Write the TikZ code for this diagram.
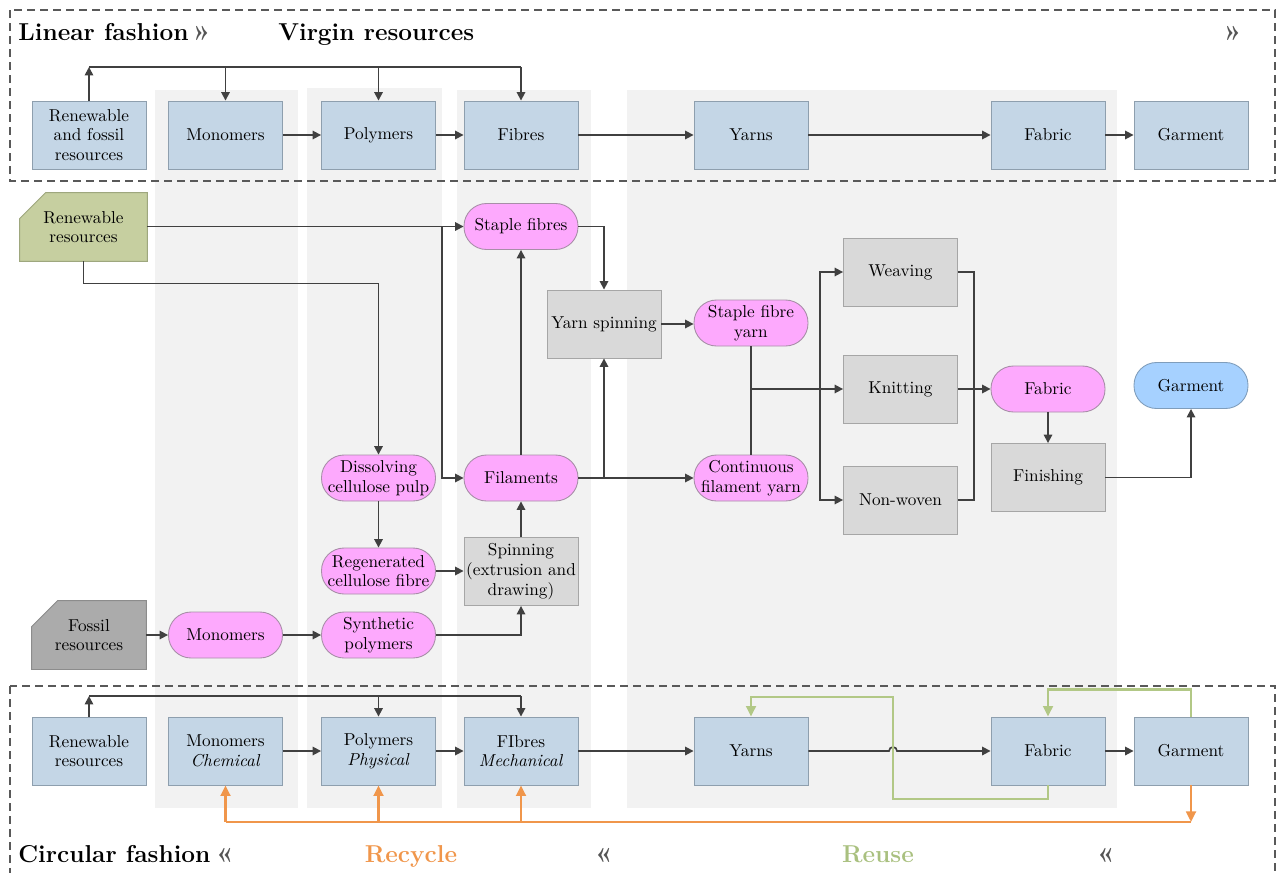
\documentclass[tikz,border=0pt]{standalone}
\usepackage{fontspec}
\usetikzlibrary{arrows.meta,backgrounds,calc}
\definecolor{blueF}{HTML}{C4D6E6}
\definecolor{blueD}{HTML}{8E9FAE}
\definecolor{pinkF}{HTML}{FDA9FD}
\definecolor{pinkD}{HTML}{A88EA8}
\definecolor{grayF}{HTML}{D9D9D9}
\definecolor{grayD}{HTML}{A6A6A6}
\definecolor{greenF}{HTML}{C6CFA0}
\definecolor{greenD}{HTML}{9EA77E}
\definecolor{fosF}{HTML}{ABABAB}
\definecolor{fosD}{HTML}{8C8C8C}
\definecolor{garF}{HTML}{A6D1FF}
\definecolor{garD}{HTML}{7F9DBB}
\definecolor{colF}{HTML}{F2F2F2}
\definecolor{lineC}{HTML}{404040}
\definecolor{dashC}{HTML}{595959}
\definecolor{orangeC}{HTML}{F0964B}
\definecolor{greenL}{HTML}{B2C886}
\definecolor{greenT}{HTML}{A9C07F}
\definecolor{chevC}{HTML}{555555}
\tikzset{
 box/.style={draw, line width=0.5pt, align=center, font=\fontsize{9.8}{11.2}\selectfont, inner sep=1pt, minimum width=2.28cm, minimum height=1.36cm, text=black},
 bluebox/.style={box, fill=blueF, draw=blueD},
 procbox/.style={box, fill=grayF, draw=grayD},
 pill/.style={box, fill=pinkF, draw=pinkD, rounded corners=0.45cm, minimum height=0.92cm},
 garpill/.style={pill, fill=garF, draw=garD},
 cutnode/.style={box, draw=none, fill=none},
 ln/.style={draw=lineC, line width=0.95pt},
 arr/.style={ln, -{Triangle[length=4.8pt,width=4.8pt]}},
 oln/.style={draw=orangeC, line width=1.5pt},
 oarr/.style={oln, -{Triangle[length=6pt,width=5.5pt]}},
 garr/.style={draw=greenL, line width=1.5pt, -{Triangle[length=6pt,width=5.5pt]}},
 dashbox/.style={draw=dashC, line width=0.8pt, dash pattern=on 4.6pt off 2.8pt},
 head/.style={font=\fontsize{13.9}{15}\selectfont\bfseries, inner sep=0pt, anchor=base west},
 chev/.style={font=\fontsize{17}{17}\selectfont\bfseries, text=chevC, inner sep=0pt, anchor=base west},
}
\begin{document}
\begin{tikzpicture}[x=0.02cm,y=-0.02cm]
\useasboundingbox (0,0) rectangle (1277,872);
\clip (0,0) rectangle (1277,872);
% columns
\fill[colF] (155,90) rectangle (298,808);
\fill[colF] (307,88) rectangle (442,808);
\fill[colF] (457,90) rectangle (591,808);
\fill[colF] (627,90) rectangle (1117,808);
% dashed frames
\draw[dashbox] (10,10) rectangle (1275,181);
\draw[dashbox] (10,686) rectangle (1275,900);
% headings
\node[head] (hLin) at (18,40) {Linear fashion};
\node[chev] (hCh0) at (192,40.5) {»};
\node[head] (hVir) at (278,40) {Virgin resources};
\node[chev] (hCh1) at (1223,40.5) {»};
\node[head] (hCir) at (18,862) {Circular fashion};
\node[chev] (hCh4) at (215,862.5) {«};
\node[head, anchor=base, text=orangeC] (hRec) at (411,862) {Recycle};
\node[chev] (hCh2) at (594,862.5) {«};
\node[head, anchor=base, text=greenT] (hReu) at (878,862) {Reuse};
\node[chev] (hCh3) at (1096,862.5) {«};
% top row
\node[bluebox] (tR) at (89,135) {Renewable\\and fossil\\resources};
\node[bluebox] (tMon) at (225.5,135) {Monomers};
\node[bluebox] (tPol) at (378.5,135) {Polymers};
\node[bluebox] (tFib) at (521,135) {Fibres};
\node[bluebox] (tYarn) at (751,135) {Yarns};
\node[bluebox] (tFab) at (1048,135) {Fabric};
\node[bluebox] (tGar) at (1191,135) {Garment};
\coordinate (ta) at (89,67);
\draw[arr] (tR.north) -- (ta);
\draw[ln] (ta) -- (ta -| tFib.north);
\draw[arr] (ta -| tMon.north) -- (tMon.north);
\draw[arr] (ta -| tPol.north) -- (tPol.north);
\draw[arr] (ta -| tFib.north) -- (tFib.north);
\draw[arr] (tMon) -- (tPol);
\draw[arr] (tPol) -- (tFib);
\draw[arr] (tFib) -- (tYarn);
\draw[arr] (tYarn) -- (tFab);
\draw[arr] (tFab) -- (tGar);
% middle
\node[cutnode, minimum width=2.54cm] (mRen) at (83.5,227) {Renewable\\resources};
\node[cutnode] (mFos) at (89,635) {Fossil\\resources};
\begin{pgfonlayer}{background}
\filldraw[fill=greenF, draw=greenD, line width=0.5pt] (mRen.south west) -- ($(mRen.north west)+(0,-0.52cm)$) -- ($(mRen.north west)+(0.52cm,0)$) -- (mRen.north east) -- (mRen.south east) -- cycle;
\filldraw[fill=fosF, draw=fosD, line width=0.5pt] (mFos.south west) -- ($(mFos.north west)+(0,-0.52cm)$) -- ($(mFos.north west)+(0.52cm,0)$) -- (mFos.north east) -- (mFos.south east) -- cycle;
\end{pgfonlayer}
\node[pill] (mStaple) at (521,226.5) {Staple fibres};
\node[procbox] (mYS) at (604,324) {Yarn spinning};
\node[pill] (mSFY) at (751,323) {Staple fibre\\yarn};
\node[procbox] (mWeave) at (900.5,272) {Weaving};
\node[procbox] (mKnit) at (900.5,389) {Knitting};
\node[procbox] (mNon) at (900.5,500) {Non-woven};
\node[pill] (mFab) at (1048,389) {Fabric};
\node[procbox] (mFin) at (1048,477.5) {Finishing};
\node[garpill] (mGar) at (1191,385.5) {Garment};
\node[pill] (mDiss) at (378.5,478) {Dissolving\\cellulose pulp};
\node[pill] (mFil) at (521,478) {Filaments};
\node[pill] (mCFY) at (751,478) {Continuous\\filament yarn};
\node[pill] (mRegen) at (378.5,571) {Regenerated\\cellulose fibre};
\node[procbox] (mSpin) at (521,571.5) {Spinning\\(extrusion and\\drawing)};
\node[pill] (mMon) at (225.5,635) {Monomers};
\node[pill] (mSyn) at (378.5,635) {Synthetic\\polymers};
% middle connectors
\draw[arr] (mRen.east |- mStaple.west) -- (mStaple.west);
\coordinate (j1) at (442,226.5);
\draw[arr] (j1) |- (mFil.west);
\draw[arr] (mRen.south) -- ++(0,22) -| (mDiss.north);
\draw[arr] (mStaple.east) -| (mYS.north);
\draw[arr] (mFil.north) -- (mStaple.south);
\draw[arr] (mFil.east) -- (mCFY.west);
\draw[arr] (mYS.south |- mFil.east) -- (mYS.south);
\draw[arr] (mYS.east) -- (mYS.east -| mSFY.west);
\draw[ln] (mSFY.south) -- (mCFY.north);
\draw[arr] (mSFY.south |- mKnit.west) -- (mKnit.west);
\coordinate (j2) at (820,389);
\draw[arr] (j2) |- (mWeave.west);
\draw[arr] (j2) |- (mNon.west);
\coordinate (j3) at (974,389);
\draw[ln] (mWeave.east) -| (j3);
\draw[ln] (mNon.east) -| (j3);
\draw[arr] (mKnit.east) -- (mFab.west);
\draw[arr] (mFab.south) -- (mFin.north);
\draw[arr] (mFin.east) -| (mGar.south);
\draw[arr] (mDiss.south) -- (mRegen.north);
\draw[arr] (mRegen.east) -- (mRegen.east -| mSpin.west);
\draw[arr] (mSpin.north) -- (mFil.south);
\draw[arr] (mSyn.east) -| (mSpin.south);
\draw[arr] (mFos.east) -- (mMon.west);
\draw[arr] (mMon.east) -- (mSyn.west);
% bottom row
\node[bluebox] (bR) at (89,751) {Renewable\\resources};
\node[bluebox] (bMon) at (225.5,751) {Monomers\\\textit{Chemical}};
\node[bluebox] (bPol) at (378.5,751) {Polymers\\\textit{Physical}};
\node[bluebox] (bFib) at (521,751) {FIbres\\\textit{Mechanical}};
\node[bluebox] (bYarn) at (751,751) {Yarns};
\node[bluebox] (bFab) at (1048,751) {Fabric};
\node[bluebox] (bGar) at (1191,751) {Garment};
\coordinate (ba) at (89,696);
\draw[arr] (bR.north) -- (ba);
\draw[ln] (ba) -- (ba -| bFib.north);
\draw[arr] (ba -| bPol.north) -- (bPol.north);
\draw[arr] (ba -| bFib.north) -- (bFib.north);
\draw[arr] (bMon) -- (bPol);
\draw[arr] (bPol) -- (bFib);
\draw[arr] (bFib) -- (bYarn);
\coordinate (hop) at (889,751);
\draw[arr] (bYarn.east) -- (hop) arc[start angle=180, end angle=0, radius=0.08cm] -- (bFab.west);
\draw[arr] (bFab) -- (bGar);
% recycle (orange)
\coordinate (oa) at (1191,822);
\draw[oarr] (bGar.south) -- (oa);
\draw[oln] (oa) -- (oa -| bMon.south);
\draw[oarr] (oa -| bMon.south) -- (bMon.south);
\draw[oarr] (oa -| bPol.south) -- (bPol.south);
\draw[oarr] (oa -| bFib.south) -- (bFib.south);
% reuse (green)
\draw[garr] (bGar.north) -- ++(0,-27) -| (bFab.north);
\coordinate (g1) at (893,799);
\coordinate (g2) at (893,697);
\draw[garr] (bFab.south) |- (g1) -- (g2) -| (bYarn.north);
\end{tikzpicture}
\end{document}
